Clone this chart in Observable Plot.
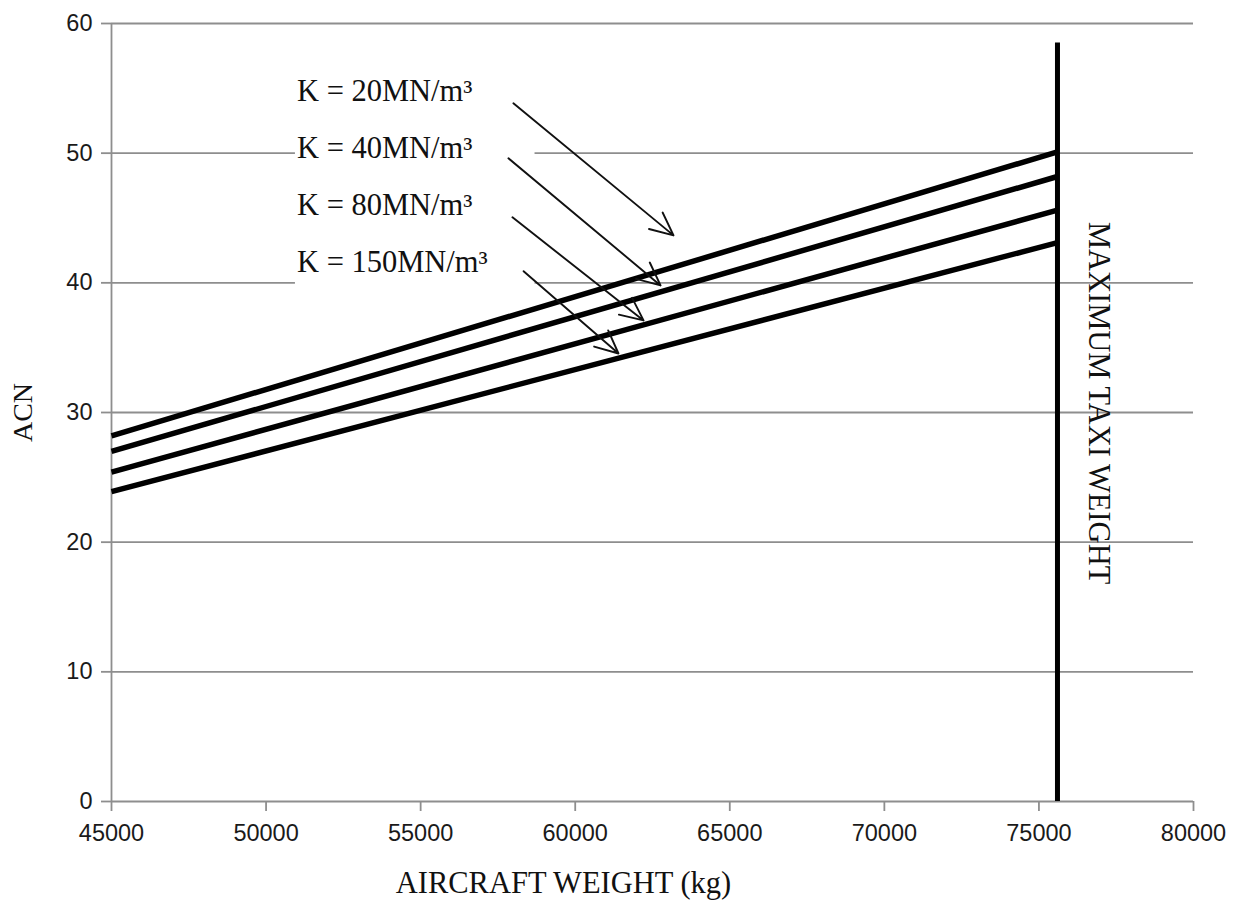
<!DOCTYPE html>
<html>
<head>
<meta charset="utf-8">
<script src="https://cdn.jsdelivr.net/npm/d3@7"></script>
<script src="https://cdn.jsdelivr.net/npm/@observablehq/plot@0.6"></script>
<style>
  html, body { margin: 0; padding: 0; background: #fff; }
  #chart svg { display: block; }
</style>
</head>
<body>
<div id="chart"></div>
<script>
// ---- Data ----
const weights = [45000, 75600];                 // aircraft weight (kg), start and max taxi weight
const acnK20  = [28.2, 50.1];
const acnK40  = [27.0, 48.2];
const acnK80  = [25.4, 45.6];
const acnK150 = [23.9, 43.1];
const seriesNames = ["K = 20MN/m³", "K = 40MN/m³", "K = 80MN/m³", "K = 150MN/m³"];
const seriesValues = [acnK20, acnK40, acnK80, acnK150];

const maxTaxiWeight = 75600;
const maxTaxiTop = 58.5;
const maxTaxiLabel = "MAXIMUM TAXI WEIGHT";
const maxTaxiLabelY = 44.7;

const xTicks = [45000, 50000, 55000, 60000, 65000, 70000, 75000, 80000];
const yTicks = [0, 10, 20, 30, 40, 50, 60];

// annotation label anchors (data units) and arrows (data units)
const labelX = [51000, 51000, 51000, 51000];
const labelY = [54.8, 50.4, 46.0, 41.6];
const arrowX1 = [58000, 57840, 57970, 58330];
const arrowY1 = [53.85, 49.6, 45.05, 40.9];
const arrowX2 = [63180, 62760, 62210, 61400];
const arrowY2 = [43.66, 39.8, 37.1, 34.55];
const labelBox = [{x1: 50950, x2: 58700, y1: 39.4, y2: 56.8}];

// ---- Build tables ----
const lineRows = seriesNames.flatMap((name, i) =>
  weights.map((w, j) => ({series: name, weight: w, acn: seriesValues[i][j]})));
const labels = seriesNames.map((name, i) => ({text: name, x: labelX[i], y: labelY[i]}));
const arrows = seriesNames.map((name, i) => ({x1: arrowX1[i], y1: arrowY1[i], x2: arrowX2[i], y2: arrowY2[i]}));

const grey = "#8e8e8e";
const serif = "'Liberation Serif', 'Times New Roman', serif";
const sans = "'Liberation Sans', Arial, sans-serif";

const chart = Plot.plot({
  width: 1243,
  height: 907,
  marginTop: 23,
  marginRight: 50,
  marginBottom: 106,
  marginLeft: 111,
  style: {background: "#fff", color: "#1a1a1a", fontFamily: sans},
  x: {domain: [45000, 80000]},
  y: {domain: [0, 60]},
  marks: [
    Plot.gridY(yTicks, {stroke: grey, strokeOpacity: 1, strokeWidth: 1.8}),
    Plot.axisY(yTicks, {tickSize: 10, tickPadding: 9, stroke: grey, strokeWidth: 1.8, fontSize: 23.5, fontFamily: sans, label: null}),
    Plot.axisX(xTicks, {tickSize: 10, tickPadding: 13, stroke: grey, strokeWidth: 1.8, fontSize: 23.5, fontFamily: sans, tickFormat: "d", label: null}),
    Plot.ruleX([45000], {stroke: grey, strokeWidth: 1.8}),
    Plot.rect(labelBox, {x1: "x1", x2: "x2", y1: "y1", y2: "y2", fill: "#fff"}),
    Plot.line(lineRows, {x: "weight", y: "acn", z: "series", stroke: "#000", strokeWidth: 5.5, strokeLinecap: "butt"}),
    Plot.ruleX([maxTaxiWeight], {y1: 0, y2: maxTaxiTop, stroke: "#000", strokeWidth: 5}),
    Plot.text(labels, {x: "x", y: "y", text: "text", textAnchor: "start", lineAnchor: "middle", fontSize: 30.5, fontFamily: serif, fill: "#111"}),
    Plot.arrow(arrows, {x1: "x1", y1: "y1", x2: "x2", y2: "y2", stroke: "#111", strokeWidth: 1.9, headLength: 20, headAngle: 50}),
    Plot.text([maxTaxiLabel], {x: maxTaxiWeight, y: maxTaxiLabelY, text: d => d, rotate: 90, textAnchor: "start", lineAnchor: "middle", dx: 41, fontSize: 30.5, fontFamily: serif, fill: "#111"}),
    Plot.text(["ACN"], {frameAnchor: "left", text: d => d, rotate: -90, dx: -88, textAnchor: "middle", lineAnchor: "middle", fontSize: 28, fontFamily: serif, fill: "#111"}),
    Plot.text(["AIRCRAFT WEIGHT (kg)"], {frameAnchor: "bottom", text: d => d, dx: -89, dy: 82, textAnchor: "middle", lineAnchor: "middle", fontSize: 30.5, fontFamily: serif, fill: "#111"})
  ]
});
document.getElementById("chart").appendChild(chart);
</script>
</body>
</html>
